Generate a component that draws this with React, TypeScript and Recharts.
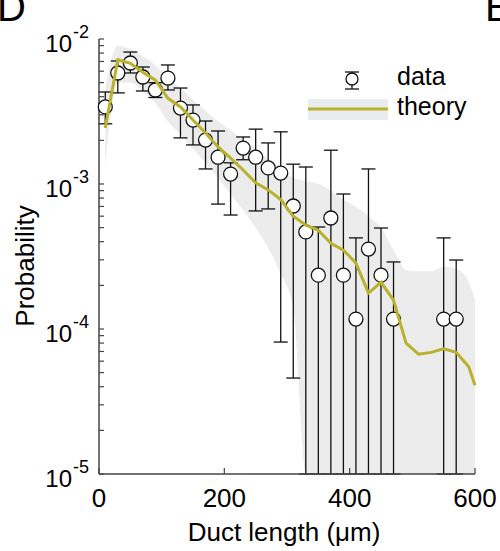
import React from 'react';
import { ComposedChart, XAxis, YAxis, Area, Line, Scatter, ErrorBar, Legend } from 'recharts';

// duct length bins (um) with observed probability and error bar bounds
const binX = [10, 30, 50, 70, 90, 110, 130, 150, 170, 190, 210, 230, 250, 270, 290, 310, 330, 350, 370, 390, 410, 430, 450, 470, 550, 570];
const dataP = [3.4e-3, 5.83e-3, 6.83e-3, 5.47e-3, 4.45e-3, 5.38e-3, 3.34e-3, 2.76e-3, 2.01e-3, 1.53e-3, 1.17e-3, 1.77e-3, 1.53e-3, 1.29e-3, 1.19e-3, 7.05e-4, 4.67e-4, 2.35e-4, 5.83e-4, 2.35e-4, 1.17e-4, 3.56e-4, 2.35e-4, 1.17e-4, 1.17e-4, 1.17e-4];
const dataHi = [4.31e-3, 7.05e-3, 8.13e-3, 6.41e-3, 5.0e-3, 6.62e-3, 4.59e-3, 3.51e-3, 2.72e-3, 2.32e-3, 1.4e-3, 2.11e-3, 2.39e-3, 1.92e-3, 2.29e-3, 1.37e-3, 1.31e-3, 5.05e-4, 1.71e-3, 8.53e-4, 4.25e-4, 1.27e-3, 4.97e-4, 2.9e-4, 4.25e-4, 2.99e-4];
const dataLo = [2.6e-3, 4.25e-3, 5.83e-3, 4.38e-3, 3.95e-3, 4.45e-3, 2.08e-3, 1.86e-3, 1.27e-3, 7.27e-4, 6.11e-4, 1.47e-3, 6.52e-4, 6.73e-4, 8.13e-5, 4.59e-5, 1e-5, 1e-5, 1e-5, 1e-5, 1e-5, 1e-5, 1e-5, 1e-5, 1e-5, 1e-5];

// theory curve and its spread
const theoryX = [10, 30, 50, 70, 90, 110, 130, 150, 170, 190, 210, 230, 250, 270, 290, 310, 330, 350, 370, 390, 410, 430, 450, 470, 490, 510, 530, 550, 570, 590, 600];
const theoryP = [2.43e-3, 7.2e-3, 6.8e-3, 5.9e-3, 5.2e-3, 3.9e-3, 3.4e-3, 2.76e-3, 2.25e-3, 1.8e-3, 1.51e-3, 1.25e-3, 1.02e-3, 9.1e-4, 7.8e-4, 6.0e-4, 5.2e-4, 4.8e-4, 3.9e-4, 3.5e-4, 2.85e-4, 1.77e-4, 2.1e-4, 1.58e-4, 8.0e-5, 6.7e-5, 6.9e-5, 7.3e-5, 6.9e-5, 5.5e-5, 4.1e-5];
const bandLo = [1.3e-3, 5.0e-3, 5.0e-3, 4.4e-3, 3.6e-3, 2.7e-3, 2.2e-3, 1.75e-3, 1.4e-3, 1.1e-3, 8.5e-4, 6.6e-4, 5.0e-4, 3.6e-4, 2.4e-4, 1.4e-4, 1e-5, 1e-5, 1e-5, 1e-5, 1e-5, 1e-5, 1e-5, 1e-5, 1e-5, 1e-5, 1e-5, 1e-5, 1e-5, 1e-5, 1e-5];
const bandHi = [4.5e-3, 9.0e-3, 8.5e-3, 7.6e-3, 6.6e-3, 5.4e-3, 4.6e-3, 3.8e-3, 3.2e-3, 2.7e-3, 2.35e-3, 2.0e-3, 1.75e-3, 1.5e-3, 1.3e-3, 1.1e-3, 1.05e-3, 1.0e-3, 9.0e-4, 7.8e-4, 7.0e-4, 6.0e-4, 5.0e-4, 3.5e-4, 2.55e-4, 2.5e-4, 2.5e-4, 2.7e-4, 2.6e-4, 2.1e-4, 1.6e-4];

const xTicks = [0, 200, 400, 600];
const decades = [-5, -4, -3, -2];
const yTicks = decades.flatMap((d) =>
  d === -2 ? [10 ** d] : [1, 2, 3, 4, 5, 6, 7, 8, 9].map((m) => m * 10 ** d)
);

const FONT = '"Liberation Sans", Arial, sans-serif';
const OLIVE = '#bab12c';
const AXIS = '#444';

const points = binX.map((x, i) => ({
  x,
  p: dataP[i],
  err: [dataP[i] - dataLo[i], dataHi[i] - dataP[i]],
}));
const theory = theoryX.map((x, i) => ({ x, p: theoryP[i], band: [bandLo[i], bandHi[i]] }));

const YTick = (props: any) => {
  const { x, y, payload } = props;
  const v = payload.value;
  const e = Math.round(Math.log10(v));
  const major = Math.abs(Math.log10(v) - e) < 1e-6;
  return (
    <g>
      <line x1={x} x2={x + 5} y1={y} y2={y} stroke={AXIS} strokeWidth={1.2} />
      {major && (
        <>
          <text x={x - 27} y={y + 13} textAnchor="end" fontSize={24} fontFamily={FONT} fill="#000">
            10
          </text>
          <text x={x - 26} y={y - 1} fontSize={18} fontFamily={FONT} fill="#000">
            {e}
          </text>
        </>
      )}
    </g>
  );
};

const XTick = (props: any) => {
  const { x, y, payload } = props;
  return (
    <g>
      <line x1={x} x2={x} y1={y} y2={y - 6} stroke={AXIS} strokeWidth={1.2} />
      <text x={x} y={y + 33} textAnchor="middle" fontSize={26} fontFamily={FONT} fill="#000">
        {payload.value}
      </text>
    </g>
  );
};

const Dot = (props: any) => (
  <circle cx={props.cx} cy={props.cy} r={7} fill="#fff" stroke="#111" strokeWidth={1.3} />
);

const LegendBox = () => (
  <svg width={180} height={70} style={{ display: 'block' }}>
    <line x1={52} x2={52} y1={10} y2={27} stroke="#111" strokeWidth={1.3} />
    <line x1={45} x2={59} y1={10} y2={10} stroke="#111" strokeWidth={1.3} />
    <line x1={45} x2={59} y1={27} y2={27} stroke="#111" strokeWidth={1.3} />
    <circle cx={52} cy={17} r={6} fill="#fff" stroke="#111" strokeWidth={1.3} />
    <text x={97} y={23} fontSize={25} fontFamily={FONT} fill="#000">data</text>
    <rect x={8} y={37} width={80} height={21} fill="#e9ecee" />
    <line x1={8} x2={88} y1={47} y2={47} stroke={OLIVE} strokeWidth={3} />
    <text x={97} y={53} fontSize={25} fontFamily={FONT} fill="#000">theory</text>
  </svg>
);

export default function App() {
  return (
    <div style={{ position: 'absolute', left: 0, top: 0, width: 500, height: 551, background: '#fff' }}>
      <ComposedChart width={500} height={551} margin={{ top: 39, right: 25, bottom: 17, left: 29 }}>
        <XAxis
          dataKey="x"
          type="number"
          domain={[0, 600]}
          ticks={xTicks}
          interval={0}
          height={60}
          tickSize={0}
          tickMargin={0}
          tickLine={false}
          tick={<XTick />}
          axisLine={{ stroke: AXIS, strokeWidth: 1.5 }}
        />
        <YAxis
          type="number"
          scale="log"
          domain={[1e-5, 1e-2]}
          ticks={yTicks}
          interval={0}
          width={70}
          tickSize={0}
          tickMargin={0}
          tickLine={false}
          tick={<YTick />}
          axisLine={{ stroke: AXIS, strokeWidth: 1.5 }}
        />
        <Area
          data={theory}
          dataKey="band"
          type="monotone"
          stroke="none"
          fill="#ececec"
          fillOpacity={1}
          isAnimationActive={false}
        />
        <Scatter data={points} dataKey="p" shape={<Dot />} isAnimationActive={false}>
          <ErrorBar dataKey="err" direction="y" width={7} stroke="#111" strokeWidth={1.3} />
        </Scatter>
        <Line
          data={theory}
          dataKey="p"
          type="linear"
          stroke={OLIVE}
          strokeWidth={3}
          dot={false}
          zIndex={900}
          isAnimationActive={false}
        />
        <Legend
          layout="horizontal"
          verticalAlign="middle"
          align="center"
          content={<LegendBox />}
          wrapperStyle={{ left: 300, top: 62, width: 180, height: 70 }}
        />
        <text x={-3} y={21} fontSize={40} fontFamily={FONT} fill="#000">D</text>
        <text x={485} y={21} fontSize={40} fontFamily={FONT} fill="#000">E</text>
        <text x={284} y={541} textAnchor="middle" fontSize={26} fontFamily={FONT} fill="#000">
          Duct length (μm)
        </text>
        <text
          x={34}
          y={266}
          textAnchor="middle"
          fontSize={26}
          fontFamily={FONT}
          fill="#000"
          transform="rotate(-90 34 266)"
        >
          Probability
        </text>
      </ComposedChart>
    </div>
  );
}
